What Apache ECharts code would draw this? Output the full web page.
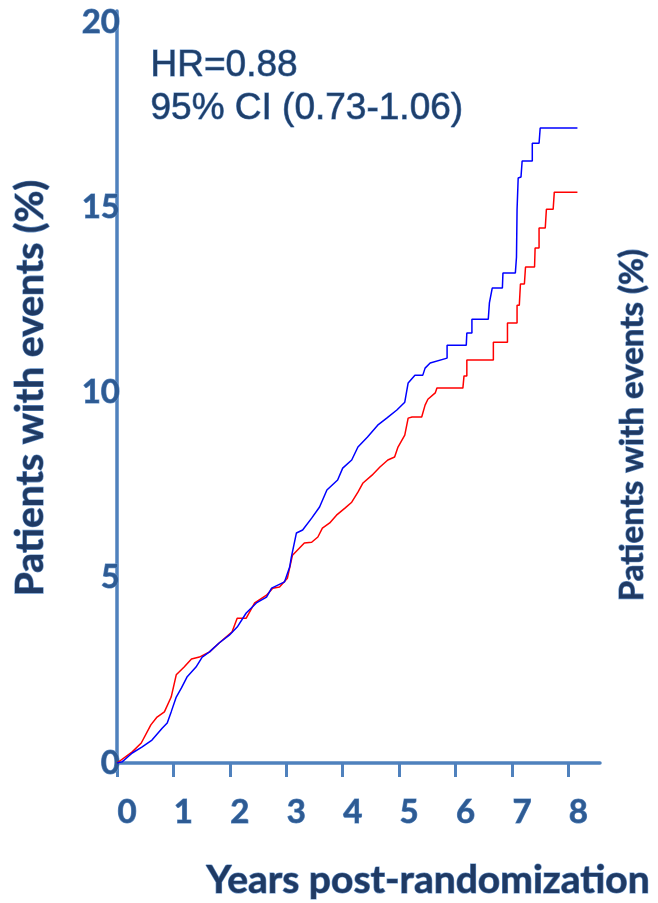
<!DOCTYPE html>
<html><head><meta charset="utf-8">
<script src="https://cdn.jsdelivr.net/npm/echarts@6/dist/echarts.min.js"></script>
<style>html,body{margin:0;padding:0;background:#fff}#c{width:658px;height:903px}</style>
</head><body><div id="c"></div>
<script>
const xTicks = [0,1,2,3,4,5,6,7,8];
const yTicks = [0,5,10,15,20];
const blueX = [0,0.09,0.27,0.44,0.62,0.80,0.89,0.96,1.05,1.14,1.24,1.40,1.51,1.64,1.81,1.99,2.13,2.29,2.47,2.65,2.74,2.97,3.06,3.09,3.18,3.29,3.45,3.59,3.72,3.91,4.00,4.16,4.27,4.44,4.62,4.78,4.96,5.10,5.16,5.28,5.42,5.46,5.55,5.85,5.85,6.19,6.20,6.29,6.29,6.58,6.60,6.65,6.83,6.84,7.06,7.08,7.09,7.11,7.16,7.18,7.36,7.36,7.48,7.50,8.16];
const blueY = [0,0.03,0.27,0.43,0.62,0.94,1.08,1.38,1.78,2.02,2.32,2.59,2.86,3.00,3.24,3.45,3.67,4.05,4.32,4.48,4.72,4.89,5.29,5.56,6.21,6.29,6.61,6.91,7.37,7.64,7.96,8.18,8.53,8.80,9.12,9.31,9.53,9.74,10.26,10.47,10.47,10.66,10.80,10.93,11.28,11.28,11.61,11.61,11.98,11.98,12.42,12.82,12.82,13.23,13.23,13.66,14.93,15.79,15.82,16.25,16.25,16.73,16.73,17.14,17.14];
const redX = [0,0.27,0.43,0.60,0.71,0.84,0.96,1.05,1.19,1.32,1.46,1.64,1.81,2.04,2.13,2.29,2.44,2.65,2.76,2.88,3.02,3.11,3.32,3.45,3.56,3.64,3.77,3.89,4.04,4.16,4.27,4.36,4.52,4.66,4.80,4.92,4.98,5.10,5.16,5.23,5.40,5.46,5.51,5.64,5.67,6.13,6.15,6.20,6.20,6.67,6.67,6.92,6.92,7.09,7.09,7.13,7.15,7.22,7.24,7.40,7.41,7.48,7.48,7.59,7.61,7.73,7.75,8.16];
const redY = [0,0.30,0.54,1.03,1.24,1.38,1.78,2.38,2.59,2.81,2.86,3.00,3.24,3.54,3.91,3.91,4.32,4.53,4.72,4.75,4.99,5.61,5.94,5.96,6.10,6.34,6.48,6.69,6.88,7.04,7.31,7.56,7.77,7.99,8.18,8.26,8.53,8.85,9.31,9.34,9.34,9.66,9.82,9.99,10.12,10.12,10.45,10.45,10.88,10.88,11.36,11.36,11.88,11.88,12.36,12.36,12.93,12.93,13.39,13.39,13.90,13.90,14.44,14.44,14.95,14.95,15.41,15.41];

const axisColor = '#4F81BD';
const labelStyle = {color:'#2E5B93', fontFamily:'Lato', fontWeight:'bold', fontSize:33, textBorderColor:'#6A96CC', textBorderWidth:1};
const titleStyle = {fill:'#1F3A64', fontFamily:'Lato', fontWeight:'bold', stroke:'#6A96CC', lineWidth:1.2};

const chart = echarts.init(document.getElementById('c'), null, {renderer:'canvas'});
chart.setOption({
  animation:false,
  backgroundColor:'#fff',
  grid:{left:117, right:58, top:11, bottom:140},
  xAxis:{type:'value', min:0, max:8.56,
    axisLine:{show:true, lineStyle:{color:axisColor, width:3.5}},
    axisTick:{show:true, length:14, lineStyle:{color:axisColor, width:3}, customValues:xTicks},
    axisLabel:Object.assign({margin:33, customValues:xTicks, padding:[0,0,0,20]}, labelStyle),
    splitLine:{show:false}},
  yAxis:{type:'value', min:0, max:20.3,
    axisLine:{show:true, lineStyle:{color:axisColor, width:3.5}},
    axisTick:{show:false},
    axisLabel:Object.assign({margin:-3, customValues:yTicks, verticalAlign:'middle'}, labelStyle),
    splitLine:{show:false}},
  series:[
    {type:'line', data:redX.map((x,i)=>[x,redY[i]]), showSymbol:false, lineStyle:{color:'#FF0000', width:1.5}, z:2},
    {type:'line', data:blueX.map((x,i)=>[x,blueY[i]]), showSymbol:false, lineStyle:{color:'#0000FF', width:1.5}, z:3}
  ],
  graphic:[
    {type:'text', left:150, top:47, style:{text:'HR=0.88', fill:'#1F3F6A', stroke:'#6A96CC', lineWidth:1, font:'37px "Liberation Sans"'}},
    {type:'text', left:150, top:90, style:{text:'95% CI (0.73-1.06)', fill:'#1F3F6A', stroke:'#6A96CC', lineWidth:1, font:'37px "Liberation Sans"'}},
    {type:'text', x:30, y:388, rotation:Math.PI/2, style:Object.assign({text:'Patients with events (%)', fontSize:39, align:'center', verticalAlign:'middle'}, titleStyle)},
    {type:'text', x:632, y:425, rotation:Math.PI/2, style:Object.assign({text:'Patients with events (%)', fontSize:33, align:'center', verticalAlign:'middle'}, titleStyle)},
    {type:'text', x:428, y:880, style:Object.assign({text:'Years post-randomization', fontSize:39, align:'center', verticalAlign:'middle'}, titleStyle)}
  ]
});
</script></body></html>
